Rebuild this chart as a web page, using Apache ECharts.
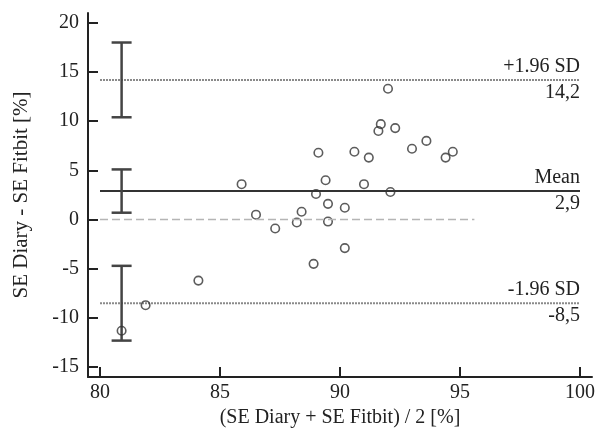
<!DOCTYPE html>
<html>
<head>
<meta charset="utf-8">
<style>
  html, body { margin: 0; padding: 0; background: #fff; }
  #chart { width: 599px; height: 437px; }
</style>
<script src="https://cdn.jsdelivr.net/npm/echarts@6/dist/echarts.min.js"></script>
</head>
<body>
<div id="chart"></div>
<script>
// 数据：横轴为两种方法的平均值，纵轴为差值
const meanValues = [80.9, 81.9, 84.1, 85.9, 86.5, 87.3, 88.2, 88.4, 88.9, 89.0, 89.1, 89.4, 89.5, 89.5,
    90.2, 90.2, 90.6, 91.0, 91.2, 91.6, 91.7, 92.0, 92.1, 92.3, 93.0, 93.6, 94.4, 94.7];
const diffValues = [-11.3, -8.7, -6.2, 3.6, 0.5, -0.9, -0.3, 0.8, -4.5, 2.6, 6.8, 4.0, 1.6, -0.2,
    1.2, -2.9, 6.9, 3.6, 6.3, 9.0, 9.7, 13.3, 2.8, 9.3, 7.2, 8.0, 6.3, 6.9];

// 一致性界限 (+1.96 SD, Mean, -1.96 SD)
const limitNames = ['+1.96 SD', 'Mean', '-1.96 SD'];
const limitValues = [14.2, 2.9, -8.5];
const limitLabels = ['14,2', '2,9', '-8,5'];
const limitFrom = 80;
const limitTo = 100;

// 各界限的置信区间
const ciX = 80.9;
const ciLow = [10.4, 0.7, -12.3];
const ciHigh = [18.0, 5.1, -4.7];

// 零参考线
const zeroLine = [[80, 0], [95.6, 0]];

const xTicks = [80, 85, 90, 95, 100];
const yTicks = [-15, -10, -5, 0, 5, 10, 15, 20];

const FONT = "'Liberation Serif', 'Times New Roman', serif";
const INK = '#222';

var chart = echarts.init(document.getElementById('chart'));

let option = {
    animation: false,
    grid: {
        left: 88,
        right: 7,
        top: 13,
        bottom: 60,
    },
    xAxis: {
        type: 'value',
        min: 79.5,
        max: 100.5,
        name: '(SE Diary + SE Fitbit) / 2 [%]',
        nameLocation: 'middle',
        nameGap: 30,
        nameTextStyle: { fontFamily: FONT, fontSize: 20, color: INK },
        axisLine: { show: true, onZero: false, lineStyle: { color: INK, width: 2 } },
        axisTick: { show: true, inside: true, length: 10, customValues: xTicks, lineStyle: { color: INK, width: 2 } },
        axisLabel: { customValues: xTicks, margin: 6, fontFamily: FONT, fontSize: 20, color: INK },
        splitLine: { show: false },
    },
    yAxis: {
        type: 'value',
        min: -16,
        max: 21,
        name: 'SE Diary - SE Fitbit [%]',
        nameLocation: 'middle',
        nameGap: 56,
        nameTextStyle: { fontFamily: FONT, fontSize: 21, color: INK },
        axisLine: { show: true, onZero: false, lineStyle: { color: INK, width: 2 } },
        axisTick: { show: true, inside: true, length: 10, customValues: yTicks, lineStyle: { color: INK, width: 2 } },
        axisLabel: { customValues: yTicks, margin: 9, fontFamily: FONT, fontSize: 20, color: INK },
        splitLine: { show: false },
    },
    series: [
        {
            // 零线
            type: 'line',
            data: zeroLine,
            symbol: 'none',
            silent: true,
            lineStyle: { color: '#b5b5b5', width: 1.5, type: [8, 4] },
        },
        {
            // 界限线和文字
            type: 'custom',
            silent: true,
            data: limitValues.map((v, i) => [v, limitNames[i], limitLabels[i]]),
            renderItem: function (params, api) {
                const v = api.value(0);
                const p0 = api.coord([limitFrom, v]);
                const p1 = api.coord([limitTo, v]);
                const isMean = params.dataIndex === 1;
                const textStyle = { font: '20px ' + FONT, fill: INK, align: 'right' };
                return {
                    type: 'group',
                    children: [
                        {
                            type: 'line',
                            shape: { x1: p0[0], y1: p0[1], x2: p1[0], y2: p1[1] },
                            style: isMean
                                ? { stroke: '#333', lineWidth: 2 }
                                : { stroke: '#8a8a8a', lineWidth: 2, lineDash: [2, 1] },
                        },
                        {
                            type: 'text',
                            x: p1[0],
                            y: p1[1] - 3,
                            style: Object.assign({ text: limitNames[params.dataIndex], verticalAlign: 'bottom' }, textStyle),
                        },
                        {
                            type: 'text',
                            x: p1[0],
                            y: p1[1] + 3,
                            style: Object.assign({ text: limitLabels[params.dataIndex], verticalAlign: 'top' }, textStyle),
                        },
                    ],
                };
            },
        },
        {
            // 置信区间误差棒
            type: 'custom',
            silent: true,
            data: ciLow.map((lo, i) => [ciX, lo, ciHigh[i]]),
            renderItem: function (params, api) {
                const lo = api.coord([api.value(0), api.value(1)]);
                const hi = api.coord([api.value(0), api.value(2)]);
                const cap = 10;
                const style = { stroke: '#444', lineWidth: 2.5 };
                return {
                    type: 'group',
                    children: [
                        { type: 'line', shape: { x1: lo[0], y1: lo[1], x2: hi[0], y2: hi[1] }, style: style },
                        { type: 'line', shape: { x1: lo[0] - cap, y1: lo[1], x2: lo[0] + cap, y2: lo[1] }, style: style },
                        { type: 'line', shape: { x1: hi[0] - cap, y1: hi[1], x2: hi[0] + cap, y2: hi[1] }, style: style },
                    ],
                };
            },
        },
        {
            type: 'scatter',
            data: meanValues.map((x, i) => [x, diffValues[i]]),
            symbol: 'circle',
            symbolSize: 8.5,
            itemStyle: { color: 'rgba(255,255,255,0)', borderColor: '#333', borderWidth: 1.6 },
        },
    ],
};

chart.setOption(option);
</script>
</body>
</html>
